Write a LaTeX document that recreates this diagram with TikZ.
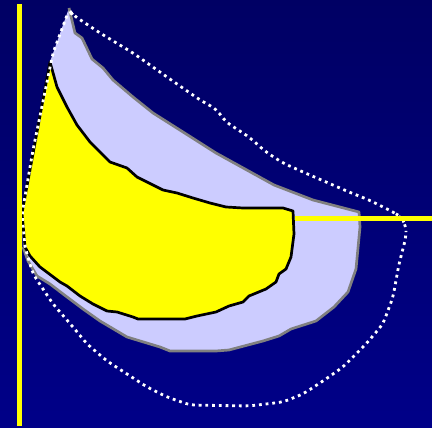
\documentclass[tikz,border=0pt]{standalone}
\usetikzlibrary{shadings}
\definecolor{bgtop}{RGB}{0,0,100}
\definecolor{bgbot}{RGB}{0,0,136}
\definecolor{lav}{RGB}{204,204,255}
\definecolor{outgrey}{RGB}{128,128,128}
\definecolor{yel}{RGB}{255,255,0}
\tikzset{
  lavfill/.style={fill=lav},
  lavline/.style={draw=outgrey,line width=2.7pt,line join=round},
  yelshape/.style={fill=yel,draw=black,line width=2.7pt,line join=round},
  dotline/.style={draw=white,line width=2.8pt,dash pattern=on 2.8pt off 3.9pt,rounded corners=6pt},
  axisline/.style={draw=yel,line width=5.5pt}
}
\begin{document}
\begin{tikzpicture}[x=1pt,y=-1pt]
\useasboundingbox (0,0) rectangle (432,428);
\shade[top color=bgtop,bottom color=bgbot] (0,0) rectangle (432,428);
% lavender region
\fill[lavfill] (69,8) -- (75,33) -- (82,38) -- (92,59) -- (103,68) -- (113,80) -- (133,97) -- (153,113) -- (183,132) -- (216,153) -- (274,185) -- (313,200) -- (359,212) -- (360,227) -- (356,269) -- (348,292) -- (334,307) -- (316,321) -- (291,329) -- (279,336) -- (263,341) -- (229,350) -- (216,351) -- (170,351) -- (160,347) -- (127,337) -- (100,321) -- (83,309) -- (67,297) -- (50,284) -- (37,276) -- (28,261) -- (23,247) -- (22,213) -- (33,150) -- (50,62) -- cycle;
\draw[lavline] (69,8) -- (75,33) -- (82,38) -- (92,59) -- (103,68) -- (113,80) -- (133,97) -- (153,113) -- (183,132) -- (216,153) -- (274,185) -- (313,200) -- (359,212) -- (360,227) -- (356,269) -- (348,292) -- (334,307) -- (316,321) -- (291,329) -- (279,336) -- (263,341) -- (229,350) -- (216,351) -- (170,351) -- (160,347) -- (127,337) -- (100,321) -- (83,309) -- (67,297) -- (50,284) -- (37,276) -- (28,261) -- (23,247);
% yellow region
\draw[yelshape] (50,62) -- (57,87) -- (67,107) -- (77,125) -- (90,142) -- (110,162) -- (127,168) -- (137,177) -- (163,190) -- (177,193) -- (193,198) -- (210,203) -- (226,207) -- (243,208) -- (283,208) -- (293,211) -- (294,234) -- (291,257) -- (286,269) -- (279,274) -- (276,282) -- (266,289) -- (249,296) -- (243,302) -- (229,306) -- (216,312) -- (197,316) -- (185,319) -- (138,319) -- (133,317) -- (117,312) -- (107,311) -- (93,304) -- (80,296) -- (67,286) -- (60,282) -- (40,267) -- (30,256) -- (25,247) -- (23,224) -- (22,213) -- cycle;
% dotted envelope
\draw[dotline] (69,10) -- (73,15) -- (100,33) -- (133,53) -- (167,77) -- (200,100) -- (216,109) -- (226,122) -- (249,137) -- (266,152) -- (283,163) -- (303,172) -- (326,182) -- (349,192) -- (369,200) -- (393,212) -- (401,217) -- (406,226) -- (406,237) -- (399,264) -- (393,297) -- (383,324) -- (366,344) -- (343,367) -- (323,381) -- (303,394) -- (283,402) -- (249,406) -- (190,405) -- (167,397) -- (147,387) -- (127,374) -- (107,361) -- (87,344) -- (73,327) -- (53,304) -- (33,274) -- (25,247) -- (22,214) -- (33,150) -- (53,53) -- cycle;
% axes
\coordinate (vtop) at (19.5,4);
\coordinate (vbot) at (19.5,426);
\coordinate (hl) at (295,218.5);
\coordinate (hr) at (432,218.5);
\draw[axisline] (vtop) -- (vbot);
\draw[axisline] (hl) -- (hr);
\end{tikzpicture}
\end{document}
